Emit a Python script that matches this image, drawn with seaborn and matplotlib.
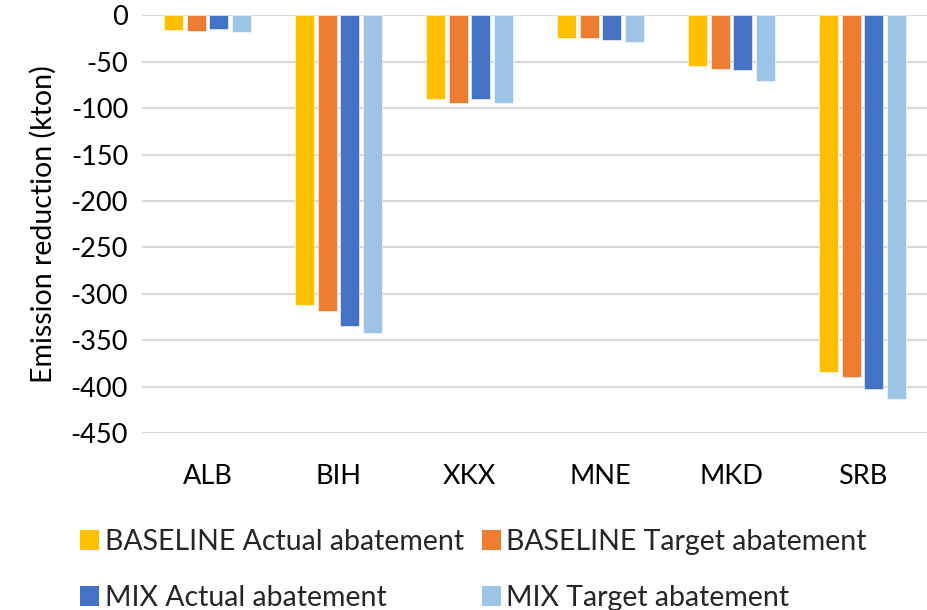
import matplotlib
matplotlib.use("Agg")
import matplotlib.pyplot as plt
import seaborn as sns
import pandas as pd
from matplotlib.patches import Patch

countries = ["ALB", "BIH", "XKX", "MNE", "MKD", "SRB"]
series_names = [
    "BASELINE Actual abatement",
    "BASELINE Target abatement",
    "MIX Actual abatement",
    "MIX Target abatement",
]
baseline_actual = [-16, -312, -90, -24, -55, -384]
baseline_target = [-17, -318, -95, -25, -58, -390]
mix_actual = [-15, -335, -90, -27, -59, -403]
mix_target = [-18, -342, -94, -29, -71, -413]
y_ticks = list(range(0, -451, -50))

colors = ["#FFC000", "#ED7D31", "#4472C4", "#9DC3E6"]

rows = []
for name, vals in zip(series_names, [baseline_actual, baseline_target, mix_actual, mix_target]):
    for c, v in zip(countries, vals):
        rows.append({"Country": c, "Series": name, "Value": v})
df = pd.DataFrame(rows)

sns.set_theme(style="white")
plt.rcParams["font.family"] = ["Lato", "DejaVu Sans"]

fig = plt.figure(figsize=(9.28, 6.10), dpi=100)
ax = fig.add_axes([0.153, 0.290, 0.847, 0.685])

sns.barplot(
    data=df, x="Country", y="Value", hue="Series",
    order=countries, hue_order=series_names, palette=colors,
    width=0.69, gap=0.16, saturation=1, errorbar=None,
    edgecolor="white", linewidth=0.4, ax=ax, legend=False,
)

ax.set_ylim(-450, 0)
ax.set_yticks(y_ticks)
ax.set_yticklabels([str(t) for t in y_ticks], fontsize=19.5, color="#000000")
ax.set_xlabel("")
ax.set_ylabel("Emission reduction (kton)", fontsize=20.5, color="#000000", labelpad=10)
ax.tick_params(axis="x", labelsize=19.5, colors="#000000", length=0, pad=22)
ax.tick_params(axis="y", length=0, pad=10)
ax.yaxis.grid(True, color="#D9D9D9", linewidth=1.6)
ax.set_axisbelow(True)
for s in ax.spines.values():
    s.set_visible(False)

# legend laid out row by row: (BA, BT) on top, (MA, MT) below
handles = [Patch(facecolor=c, edgecolor="none") for c in colors]
order = [0, 2, 1, 3]
fig.legend(
    [handles[i] for i in order], [series_names[i] for i in order],
    ncol=2, loc="upper left",
    bbox_to_anchor=(0.059, 0.175), frameon=False, fontsize=20.5,
    handlelength=0.65, handleheight=0.7, handletextpad=0.2,
    columnspacing=0.65, labelspacing=1.05,
)

fig.savefig("out.png", dpi=100)
